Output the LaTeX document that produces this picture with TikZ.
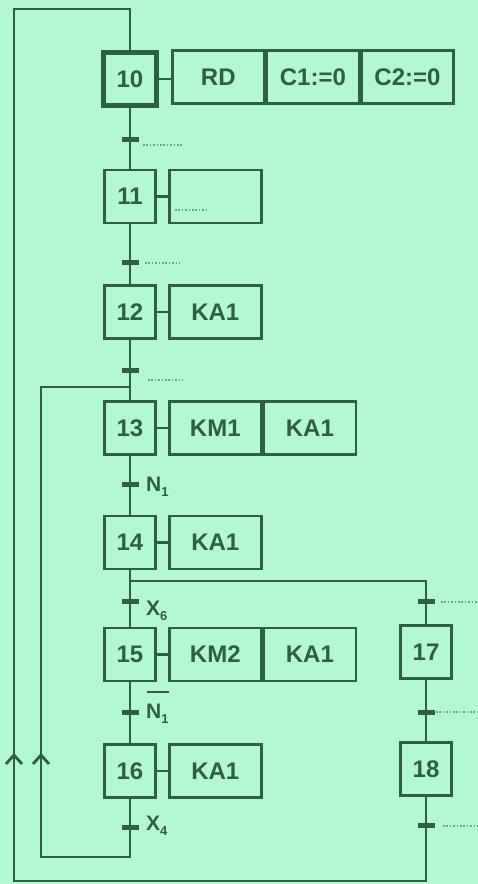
\documentclass[tikz,border=0pt]{standalone}
\usepackage{fontspec}
\setmainfont{Liberation Sans}
\usetikzlibrary{calc}
\definecolor{bg}{RGB}{180,248,210}
\definecolor{ink}{RGB}{46,96,64}
\definecolor{dotc}{RGB}{110,165,132}
\newcommand{\lowidx}[1]{\raisebox{-5pt}{\fontsize{13}{13}\selectfont #1}}
\newcommand{\acttext}[1]{\raisebox{-4pt}{#1}}
\begin{document}
\begin{tikzpicture}[x=1pt,y=-1pt,
  wire/.style={draw=ink,line width=2.6pt,line join=miter},
  stepbox/.style={rectangle,draw=ink,line width=2.6pt,minimum width=51pt,minimum height=53pt,inner sep=0pt,text=ink,font=\fontsize{24}{24}\selectfont\bfseries},
  initstep/.style={stepbox,line width=5.5pt,minimum width=53pt,minimum height=53pt},
  actbox/.style={rectangle,draw=ink,line width=2.6pt,minimum width=92pt,minimum height=53pt,inner sep=0pt,text=ink,font=\fontsize{24}{24}\selectfont\bfseries,anchor=west},
  trans/.style={rectangle,fill=ink,draw=none,minimum width=17pt,minimum height=5pt,inner sep=0pt},
  lab/.style={anchor=base west,inner sep=0pt,text=ink,font=\fontsize{21}{21}\selectfont\bfseries},
  dotl/.style={draw=dotc,line width=1.3pt,dash pattern=on 1.6pt off 1.8pt},
  chev/.style={draw=ink,line width=2.8pt,line join=miter},
  ovl/.style={draw=ink,line width=1.8pt}
]
\useasboundingbox (0,0) rectangle (478,884);
\fill[bg] (0,0) rectangle (478,884);

% steps and actions
\node[initstep] (s10) at (130,79) {10};
\node[actbox] (a10a) at (171,77) {\acttext{RD}};
\node[actbox] (a10b) at (a10a.east) {\acttext{C1:=0}};
\node[actbox] (a10c) at (a10b.east) {\acttext{C2:=0}};

\node[stepbox] (s11) at (130,196.5) {11};
\node[actbox] (a11) at (168,196.5) {};

\node[stepbox] (s12) at (130,312) {12};
\node[actbox] (a12) at (168,312) {\acttext{KA1}};

\node[stepbox] (s13) at (130,428) {13};
\node[actbox] (a13a) at (168,428) {\acttext{KM1}};
\node[actbox] (a13b) at (a13a.east) {\acttext{KA1}};

\node[stepbox] (s14) at (130,542.5) {14};
\node[actbox] (a14) at (168,542.5) {\acttext{KA1}};

\node[stepbox] (s15) at (130,654.5) {15};
\node[actbox] (a15a) at (168,654.5) {\acttext{KM2}};
\node[actbox] (a15b) at (a15a.east) {\acttext{KA1}};

\node[stepbox] (s16) at (130,771) {16};
\node[actbox] (a16) at (168,771) {\acttext{KA1}};

\node[stepbox] (s17) at (426,652) {17};
\node[stepbox] (s18) at (426,769) {18};

% corner coordinates
\coordinate (top0) at (14,9);
\coordinate (top1) at (130,9);
\coordinate (bl) at (14,881);
\coordinate (br) at (426,881);
\coordinate (j1) at (130,387);
\coordinate (il) at (41,387);
\coordinate (ilb) at (41,857);
\coordinate (imb) at (130,857);
\coordinate (d1) at (130,581);
\coordinate (d2) at (426,581);

% links
\draw[wire] (s10) -- (s11);
\draw[wire] (s11) -- (s12);
\draw[wire] (s12) -- (s13);
\draw[wire] (s13) -- (s14);
\draw[wire] (s14) -- (s15);
\draw[wire] (s15) -- (s16);
\draw[wire] (s16) -- (imb) -- (ilb) -- (il) -- (j1);
\draw[wire] (d1) -- (d2) -- (s17);
\draw[wire] (s17) -- (s18);
\draw[wire] (s18) -- (br) -- (bl) -- (top0) -- (top1) -- (s10);

% step-action links
\draw[wire] (s10.east) -- (s10.east -| a10a.west);
\draw[wire] (s11.east) -- (s11.east -| a11.west);
\draw[wire] (s12.east) -- (s12.east -| a12.west);
\draw[wire] (s13.east) -- (s13.east -| a13a.west);
\draw[wire] (s14.east) -- (s14.east -| a14.west);
\draw[wire] (s15.east) -- (s15.east -| a15a.west);
\draw[wire] (s16.east) -- (s16.east -| a16.west);

% transitions
\node[trans] (t1) at (130,139) {};
\node[trans] (t2) at (130,262) {};
\node[trans] (t3) at (130,370) {};
\node[trans] (t4) at (130,484) {};
\node[trans] (t5) at (130,601) {};
\node[trans] (t6) at (130,712) {};
\node[trans] (t7) at (130,827) {};
\node[trans] (r1) at (426,601) {};
\node[trans] (r2) at (426,712) {};
\node[trans] (r3) at (426,825) {};

% receptivities
\node[lab] (l4) at (146,491) {N\lowidx{1}};
\node[lab] (l5) at (146,615) {X\lowidx{6}};
\node[lab] (l6) at (146,718) {N\lowidx{1}};
\draw[ovl] ($(l6.base west)+(1,-26)$) -- ($(l6.base west)+(23,-26)$);
\node[lab] (l7) at (146,830) {X\lowidx{4}};

% dotted placeholders
\draw[dotl] (143,145) -- (182,145);
\draw[dotl] (145,263) -- (180,263);
\draw[dotl] (148,380) -- (183,380);
\draw[dotl] (175,210) -- (208,210);
\draw[dotl] (441,602) -- (478,602);
\draw[dotl] (436,712) -- (478,712);
\draw[dotl] (443,826) -- (478,826);

% upward arrows on return lines
\draw[chev] (6,764) -- (14,755) -- (22,764);
\draw[chev] (33,764) -- (41,755) -- (49,764);
\end{tikzpicture}
\end{document}
